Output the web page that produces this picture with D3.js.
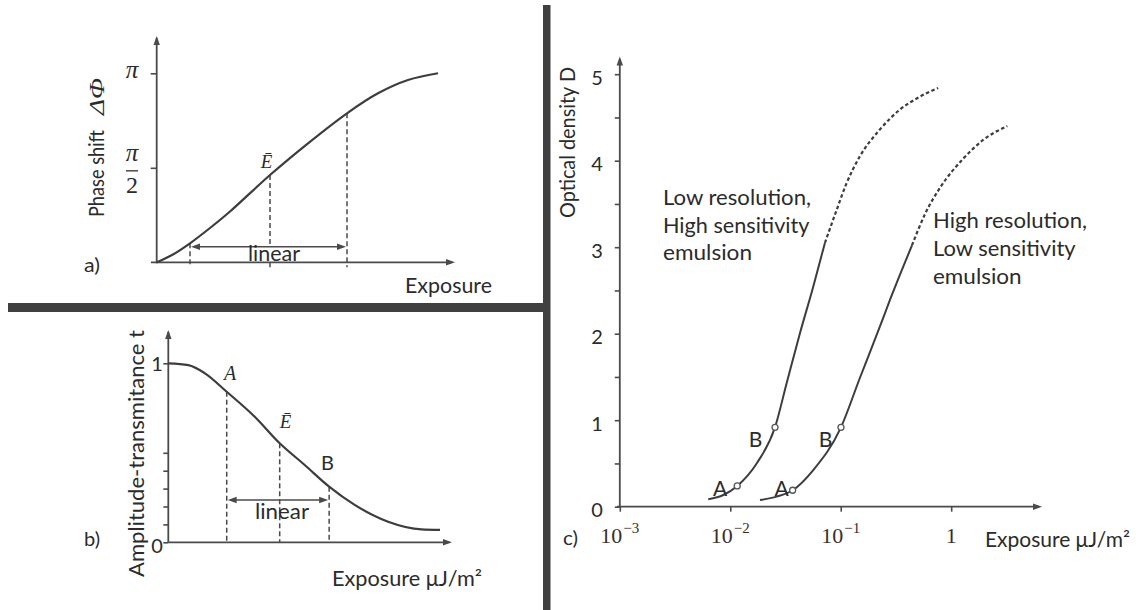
<!DOCTYPE html>
<html><head><meta charset="utf-8">
<script src="https://cdn.jsdelivr.net/npm/d3@7"></script>
<style>
html,body{margin:0;padding:0;background:#fff;}
svg{display:block;}
</style></head><body>
<svg id="chart" width="1144" height="610"></svg>
<script>
// ---------------- data ----------------
// panel a) phase shift vs exposure (arbitrary exposure units 0..10)
const phaseExposure = [0, 0.544, 1.184, 1.895, 2.606, 4.028, 5.379, 6.765, 7.867, 8.933, 10];
const phaseShift    = [0, 0.121, 0.316, 0.570, 0.844, 1.451, 1.978, 2.477, 2.809, 3.030, 3.142];
const phaseMarkExposure = [1.184, 4.028, 6.765];
const phaseMarkShift    = [0.316, 1.451, 2.477];
const phaseTicks = [Math.PI / 2, Math.PI];

// panel b) amplitude transmittance vs exposure
const transExposure = [0, 0.74, 1.35, 2.15, 3.19, 4.1, 5.02, 5.92, 6.86, 8.09, 9.32, 10];
const transmittance = [1.0, 0.99, 0.944, 0.841, 0.70, 0.553, 0.432, 0.311, 0.209, 0.115, 0.072, 0.069];
const transMarkExposure = [2.15, 4.1, 5.92];
const transMarkValue    = [0.841, 0.553, 0.311];
const transMarkLabels   = ["A", "Ē", "B"];
const transTicks = [0, 0.1, 0.2, 0.3, 0.4, 0.5, 1];
const transTickLabels = { 0: "0", 1: "1" };

// panel c) optical density vs exposure (log)
const densityTicks = [0, 0.5, 1, 1.5, 2, 2.5, 3, 3.5, 4, 4.5, 5];
const densityTickLabels = ["0", "", "1", "", "2", "", "3", "", "4", "", "5"];
const exposureDecades = [1e-3, 1e-2, 1e-1, 1];
const exposureBase = ["10", "10", "10", "1"];
const exposureExp  = ["−3", "−2", "−1", ""];

const lowResSolidE = [0.00632, 0.00865, 0.01156, 0.01733, 0.02542, 0.03238, 0.04273, 0.05637, 0.0719];
const lowResSolidD = [0.086, 0.135, 0.24, 0.50, 0.918, 1.427, 2.005, 2.543, 3.049];
const lowResDashE  = [0.0719, 0.0918, 0.113, 0.149, 0.226, 0.343, 0.520, 0.762];
const lowResDashD  = [3.049, 3.43, 3.74, 4.05, 4.36, 4.59, 4.74, 4.84];
const lowResPointE = [0.01156, 0.02542];
const lowResPointD = [0.24, 0.918];

const highResSolidE = [0.01857, 0.0263, 0.0367, 0.0564, 0.1005, 0.149, 0.226, 0.279, 0.441];
const highResSolidD = [0.077, 0.116, 0.19, 0.424, 0.918, 1.488, 2.081, 2.39, 3.02];
const highResDashE  = [0.441, 0.583, 0.804, 1.30, 1.945, 3.22];
const highResDashD  = [3.02, 3.39, 3.70, 4.03, 4.24, 4.40];
const highResPointE = [0.0367, 0.1005];
const highResPointD = [0.19, 0.918];
const pointLabels = ["A", "B"];

const lowResLabel  = ["Low resolution,", "High sensitivity", "emulsion"];
const highResLabel = ["High resolution,", "Low sensitivity", "emulsion"];

// ---------------- setup ----------------
const svg = d3.select("#chart");
const SANS = "Lato, 'Open Sans', sans-serif";
const SERIF = "'Liberation Serif', 'DejaVu Serif', serif";
const TXT = "#2b2b2b", LINE = "#4a4a4a", CURVE = "#3d3d3d";

function fit(sel, w) {
  sel.attr("textLength", w).attr("lengthAdjust", "spacingAndGlyphs");
  return sel;
}
function txt(x, y, s, opt = {}) {
  const t = svg.append("text").attr("x", x).attr("y", y)
    .attr("font-family", opt.family || SANS)
    .attr("font-size", opt.size || 20)
    .attr("font-style", opt.italic ? "italic" : "normal")
    .attr("text-anchor", opt.anchor || "start")
    .attr("fill", TXT).text(s);
  if (opt.rotate) t.attr("x", 0).attr("y", 0).attr("transform", `translate(${x},${y}) rotate(-90)`);
  if (opt.width) fit(t, opt.width);
  return t;
}
function arrowUp(x, y) {
  svg.append("path").attr("d", `M${x},${y} L${x - 3.2},${y + 9} L${x + 3.2},${y + 9} Z`).attr("fill", LINE);
}
function arrowRight(x, y) {
  svg.append("path").attr("d", `M${x},${y} L${x - 9},${y - 3.2} L${x - 9},${y + 3.2} Z`).attr("fill", LINE);
}
function arrowLeft(x, y) {
  svg.append("path").attr("d", `M${x},${y} L${x + 9},${y - 3.2} L${x + 9},${y + 3.2} Z`).attr("fill", LINE);
}
function line(x1, y1, x2, y2, w = 1.8, dash = null) {
  const l = svg.append("line").attr("x1", x1).attr("y1", y1).attr("x2", x2).attr("y2", y2)
    .attr("stroke", LINE).attr("stroke-width", w);
  if (dash) l.attr("stroke-dasharray", dash);
  return l;
}
function styleAxis(g) {
  g.select(".domain").remove();
  g.selectAll(".tick line").attr("stroke", LINE).attr("stroke-width", 1.6);
  g.selectAll(".tick text").remove();
}

// ---------------- dividers ----------------
svg.append("rect").attr("x", 8).attr("y", 303).attr("width", 540).attr("height", 9).attr("fill", "#404040");
svg.append("rect").attr("x", 543).attr("y", 5).attr("width", 7.5).attr("height", 605).attr("fill", "#404040");

// ---------------- panel a ----------------
const xa = d3.scaleLinear().domain([0, 10]).range([156.7, 438]);
const ya = d3.scaleLinear().domain([0, Math.PI]).range([262.3, 73.3]);

line(xa(0), ya(0) + 1, xa(0), 38);
arrowUp(xa(0), 36);
line(151, ya(0), 452, ya(0));
arrowRight(455, ya(0));
svg.append("g").attr("transform", `translate(${xa(0)},0)`)
  .call(d3.axisLeft(ya).tickValues(phaseTicks).tickSize(6)).call(styleAxis);

// pi labels
txt(132, 78, "π", { family: SERIF, italic: true, size: 25, anchor: "middle" });
txt(132, 161, "π", { family: SERIF, italic: true, size: 25, anchor: "middle" });
line(126, ya(Math.PI / 2) + 3, 138, ya(Math.PI / 2) + 3, 1.5);
txt(132, 193, "2", { family: SERIF, size: 24, anchor: "middle" });

// dashed marks
phaseMarkExposure.forEach((e, i) => {
  const x = xa(e), y = ya(phaseMarkShift[i]);
  if (i === 1) {
    line(x, y, x, 244, 1.5, "5,3");
    line(x, ya(0), x, ya(0) + 5, 1.5);
  } else {
    line(x, y, x, ya(0) + 5, 1.5, "5,3");
  }
});
// linear arrow
const aArrowY = 246.7;
line(xa(phaseMarkExposure[0]) + 6, aArrowY, xa(phaseMarkExposure[2]) - 6, aArrowY, 1.6);
arrowLeft(xa(phaseMarkExposure[0]) + 1, aArrowY);
arrowRight(xa(phaseMarkExposure[2]) - 1, aArrowY);
txt(274, 261, "linear", { size: 21, anchor: "middle", width: 52 });

// curve a
const lineA = d3.line().x(d => xa(d[0])).y(d => ya(d[1])).curve(d3.curveCatmullRom.alpha(0.5));
svg.append("path").datum(phaseExposure.map((e, i) => [e, phaseShift[i]]))
  .attr("d", lineA).attr("fill", "none").attr("stroke", CURVE).attr("stroke-width", 2.2);

txt(266.5, 168, "Ē", { family: SERIF, italic: true, size: 19, anchor: "middle" });
txt(84, 272, "a)", { size: 20, width: 16 });
txt(405, 293, "Exposure", { size: 21, width: 87 });
txt(104, 217, "Phase shift", { size: 21, rotate: true, width: 87 });
txt(104, 115, "ΔΦ", { family: SERIF, italic: true, size: 20, rotate: true, width: 37 });

// ---------------- panel b ----------------
const xb = d3.scaleLinear().domain([0, 10]).range([168.3, 440]);
const yb = d3.scaleLinear().domain([0, 1]).range([542.3, 363.3]);

line(xb(0), yb(0), xb(0), 332);
arrowUp(xb(0), 330);
line(xb(0), yb(0), 449, yb(0));
arrowRight(452, yb(0));
svg.append("g").attr("transform", `translate(${xb(0)},0)`)
  .call(d3.axisLeft(yb).tickValues(transTicks).tickSize(5)).call(styleAxis);
transTicks.forEach(v => {
  if (transTickLabels[v] !== undefined)
    txt(157, yb(v) + (v === 0 ? 10.5 : 8), transTickLabels[v], { size: 20, anchor: "middle" });
});

transMarkExposure.forEach((e, i) => {
  line(xb(e), yb(transMarkValue[i]), xb(e), yb(0), 1.5, "5,3");
});
const bArrowY = 500;
line(xb(transMarkExposure[0]) + 6, bArrowY, xb(transMarkExposure[2]) - 6, bArrowY, 1.6);
arrowLeft(xb(transMarkExposure[0]) + 1, bArrowY);
arrowRight(xb(transMarkExposure[2]) - 1, bArrowY);
txt(282, 519, "linear", { size: 21, anchor: "middle", width: 54 });

const lineB = d3.line().x(d => xb(d[0])).y(d => yb(d[1])).curve(d3.curveMonotoneX);
svg.append("path").datum(transExposure.map((e, i) => [e, transmittance[i]]))
  .attr("d", lineB).attr("fill", "none").attr("stroke", CURVE).attr("stroke-width", 2.2);

txt(230, 380, transMarkLabels[0], { family: SERIF, italic: true, size: 20, anchor: "middle" });
txt(285.5, 428, transMarkLabels[1], { family: SERIF, italic: true, size: 19, anchor: "middle" });
txt(327.5, 470, transMarkLabels[2], { size: 20, anchor: "middle" });
txt(84, 546, "b)", { size: 20, width: 16 });
txt(332, 586, "Exposure μJ/m²", { size: 21, width: 150 });
txt(144, 577, "Amplitude-transmitance t", { size: 21, rotate: true, width: 247 });

// ---------------- panel c ----------------
const xc = d3.scaleLog().domain([1e-3, 1]).range([619.8, 951.2]);
const yc = d3.scaleLinear().domain([0, 5]).range([506.7, 74.2]);

line(xc(1e-3), yc(0), xc(1e-3), 59);
arrowUp(xc(1e-3), 56.5);
line(617, yc(0), 1039, yc(0));
arrowRight(1042, yc(0));
svg.append("g").attr("transform", `translate(${xc(1e-3)},0)`)
  .call(d3.axisLeft(yc).tickValues(densityTicks).tickSize(5)).call(styleAxis);
svg.append("g").attr("transform", `translate(0,${yc(0)})`)
  .call(d3.axisBottom(xc).tickValues(exposureDecades).tickSize(5)).call(styleAxis);

densityTicks.forEach((v, i) => {
  if (densityTickLabels[i]) txt(597, yc(v) + 10.5, densityTickLabels[i], { size: 20, anchor: "middle" });
});
exposureDecades.forEach((v, i) => {
  const t = svg.append("text").attr("x", xc(v)).attr("y", 543)
    .attr("text-anchor", "middle").attr("font-family", SERIF).attr("font-size", 22).attr("fill", "#3a2e26");
  t.append("tspan").text(exposureBase[i]);
  if (exposureExp[i]) t.append("tspan").attr("dy", -10).attr("dx", 1).attr("font-size", 15).text(exposureExp[i]);
});

const lineC = d3.line().x(d => xc(d[0])).y(d => yc(d[1])).curve(d3.curveMonotoneX);
function curveC(E, D, dashed) {
  const p = svg.append("path").datum(E.map((e, i) => [e, D[i]]))
    .attr("d", lineC).attr("fill", "none").attr("stroke", CURVE).attr("stroke-width", 2);
  if (dashed) p.attr("stroke-dasharray", "3.5,2.5").attr("stroke-width", 2.2);
}
curveC(lowResSolidE, lowResSolidD, false);
curveC(lowResDashE, lowResDashD, true);
curveC(highResSolidE, highResSolidD, false);
curveC(highResDashE, highResDashD, true);

function points(E, D, labelDx) {
  E.forEach((e, i) => {
    svg.append("circle").attr("cx", xc(e)).attr("cy", yc(D[i])).attr("r", 3)
      .attr("fill", "#fff").attr("stroke", "#555").attr("stroke-width", 1.3);
    const baseY = i === 0 ? 496 : 446.5;
    txt(xc(e) + labelDx[i], baseY, pointLabels[i], { size: 21, anchor: "middle" });
  });
}
points(lowResPointE, lowResPointD, [-17, -19.5]);
points(highResPointE, highResPointD, [-11, -15.5]);

const lowResWidths = [148, 146.5, 89];
const highResWidths = [154, 142.6, 88.6];
lowResLabel.forEach((s, i) => txt(663, 205 + i * 27.5, s, { size: 21, width: lowResWidths[i] }));
highResLabel.forEach((s, i) => txt(933, 228 + i * 28, s, { size: 21, width: highResWidths[i] }));

txt(563, 545, "c)", { size: 20, width: 15 });
txt(985, 547, "Exposure μJ/m²", { size: 21, width: 145 });
txt(575, 218, "Optical density D", { size: 21, rotate: true, width: 151 });
</script>
</body></html>
